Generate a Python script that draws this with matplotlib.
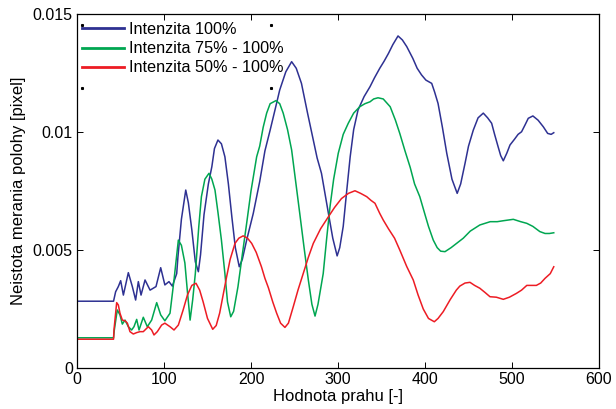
import matplotlib
matplotlib.use("Agg")
import matplotlib.pyplot as plt
from matplotlib.lines import Line2D
from matplotlib.ticker import FixedLocator, FixedFormatter

plt.rcParams["font.family"] = ["Liberation Sans", "DejaVu Sans"]

# --- data ---
blue_x = [0, 42, 44.4, 47.5, 50.2, 53.3, 59, 63.6, 67.4, 70.5, 73.6, 78.2, 84, 90.8,
          96.2, 101, 105.7, 109.6, 114.6, 116, 120, 125, 128, 132, 136, 139.5, 142,
          146, 151, 155, 158, 162, 166, 170, 174, 178, 182, 186.5, 190, 195, 202.6,
          210, 216, 222, 228, 233, 240, 246.7, 252, 258, 265, 271.6, 276, 281, 285,
          289, 294, 299, 302, 306, 310, 314, 318, 323, 330, 336.8, 342, 348, 353,
          358, 363, 369, 374, 379, 386, 391, 396, 401, 407.7, 411, 415, 420, 425,
          431, 437, 441, 446, 450, 455.5, 461, 467, 472, 476.6, 480, 484, 487, 490,
          494, 497.7, 503, 507, 511, 515, 518.7, 524, 530, 536, 541, 545, 548]
blue_y = [0.00283, 0.00283, 0.00323, 0.00345, 0.0037, 0.00309, 0.00404, 0.00345,
          0.00288, 0.00366, 0.00309, 0.00373, 0.0033, 0.00345, 0.00425, 0.00352,
          0.00366, 0.00347, 0.004, 0.0047, 0.0063, 0.00754, 0.0070, 0.00585, 0.0045,
          0.00408, 0.0048, 0.0065, 0.0078, 0.00853, 0.0093, 0.00966, 0.0095, 0.00895,
          0.0078, 0.0064, 0.0051, 0.00429, 0.0046, 0.00542, 0.00655, 0.0079, 0.0092,
          0.01008, 0.0110, 0.01178, 0.01255, 0.01298, 0.0127, 0.01206, 0.0108,
          0.00966, 0.0089, 0.00825, 0.0074, 0.00655, 0.0055, 0.00475, 0.0051, 0.006,
          0.0075, 0.00895, 0.0101, 0.01093, 0.0115, 0.01192, 0.0123, 0.0127, 0.0130,
          0.01333, 0.0137, 0.01407, 0.0139, 0.01362, 0.01312, 0.0127, 0.01242,
          0.0122, 0.01206, 0.0117, 0.01121, 0.0102, 0.0091, 0.0080, 0.0074, 0.0078,
          0.00867, 0.0094, 0.01008, 0.0106, 0.0108, 0.0106, 0.01037, 0.0099, 0.00938,
          0.0090, 0.00878, 0.0091, 0.00945, 0.0097, 0.0099, 0.01001, 0.0103, 0.01058,
          0.01068, 0.0105, 0.01022, 0.00994, 0.0099, 0.00997]

green_x = [0, 42, 42.9, 46.3, 49.4, 52.1, 55.2, 59, 62.8, 65.5, 68.6, 71.3, 76.2, 80.8,
           85.8, 91.6, 96.2, 101, 106.9, 111.5, 116.5, 120, 124, 127, 130, 133, 136,
           140, 143, 147, 151.7, 155, 158.6, 162, 166, 170, 173, 176.7, 180, 185, 190,
           195, 200, 206.5, 210, 214, 218, 222, 228.7, 233, 237, 242, 246.7, 251, 256,
           261, 265.9, 270, 273.6, 277, 283, 287, 290.8, 295, 300.3, 306, 311.8, 318,
           325, 331, 336.8, 341, 346, 352, 360, 366, 371, 377, 383, 388, 394, 400,
           404, 409.5, 414, 418, 423, 430, 437, 444, 452, 463, 475, 483, 490, 501.5,
           510, 517, 524, 532, 538, 543, 548]
green_y = [0.00128, 0.00128, 0.00161, 0.00246, 0.00225, 0.00186, 0.00203, 0.00175,
           0.00161, 0.00175, 0.00206, 0.00161, 0.00215, 0.00175, 0.00203, 0.00277,
           0.00225, 0.002, 0.00232, 0.00373, 0.00542, 0.0052, 0.00445, 0.0032,
           0.00203, 0.0029, 0.004, 0.0060, 0.00726, 0.0080, 0.00825, 0.0080, 0.00754,
           0.0066, 0.00542, 0.0040, 0.0028, 0.00217, 0.0024, 0.00344, 0.0048, 0.00613,
           0.0075, 0.00895, 0.0094, 0.0102, 0.0108, 0.0112, 0.01133, 0.0112, 0.0108,
           0.0101, 0.00924, 0.0080, 0.00656, 0.0051, 0.00373, 0.0027, 0.0022, 0.0027,
           0.004, 0.0055, 0.00683, 0.0080, 0.0091, 0.0099, 0.01037, 0.0108, 0.01107,
           0.0112, 0.01128, 0.0114, 0.01145, 0.0114, 0.01107, 0.0105, 0.00994, 0.0092,
           0.0085, 0.0078, 0.00726, 0.0065, 0.0060, 0.00542, 0.0051, 0.00495,
           0.00493, 0.0051, 0.0053, 0.0055, 0.0058, 0.00606, 0.0062, 0.0062, 0.00624,
           0.0063, 0.0062, 0.00613, 0.0060, 0.00578, 0.0057, 0.0057, 0.00573]

red_x = [0, 42, 42.5, 45.6, 47.5, 49.4, 52.1, 55.2, 57.9, 60.9, 64.7, 68.6, 72.4, 76.2,
         82, 85.8, 88.5, 92.3, 97.3, 101, 106.9, 111.5, 116.5, 122, 127, 132, 136.8,
         141, 145, 150, 156, 160, 164, 168, 172, 176, 181.6, 186, 191, 196, 200.8,
         206, 212, 216, 220, 225, 229.5, 234, 239, 243, 248.6, 254, 260, 266, 271.6,
         280, 289, 296, 304, 312, 319.5, 326, 333, 338, 342.5, 348, 352, 358, 365,
         371, 379, 386.5, 392, 398, 404, 410.7, 415, 421, 429, 436, 440, 446, 451.7,
         457, 463, 469, 474.7, 482, 490, 497, 505, 511, 517, 523, 528, 533, 538,
         544, 548]
red_y = [0.00122, 0.00122, 0.00161, 0.00277, 0.00267, 0.00232, 0.00203, 0.002,
         0.0019, 0.00154, 0.00144, 0.0015, 0.00154, 0.00154, 0.00175, 0.00161, 0.0014,
         0.00154, 0.00182, 0.0019, 0.00175, 0.00161, 0.00182, 0.00246, 0.0031, 0.0035,
         0.00359, 0.0033, 0.0028, 0.0021, 0.00164, 0.0018, 0.00233, 0.0031, 0.00387,
         0.0046, 0.00528, 0.0055, 0.0056, 0.0055, 0.00528, 0.0049, 0.00429, 0.0038,
         0.0034, 0.0028, 0.00232, 0.0019, 0.00172, 0.0019, 0.0026, 0.0033, 0.004,
         0.0047, 0.00528, 0.0059, 0.00641, 0.0068, 0.00718, 0.0074, 0.00751, 0.0074,
         0.00726, 0.0071, 0.00698, 0.00655, 0.00627, 0.0059, 0.0055, 0.0050, 0.0043,
         0.00373, 0.0031, 0.0025, 0.0021, 0.00196, 0.0021, 0.00239, 0.0029, 0.0033,
         0.00347, 0.0036, 0.00363, 0.0035, 0.00338, 0.0032, 0.00302, 0.0030, 0.00291,
         0.0030, 0.00316, 0.0033, 0.0035, 0.0035, 0.0035, 0.0036, 0.0038, 0.0040,
         0.00429]

labels = ["Intenzita 100%", "Intenzita 75% - 100%", "Intenzita 50% - 100%"]
colors = ["#2e3192", "#00a651", "#ed1c24"]

x_ticks = [0, 100, 200, 300, 400, 500, 600]
y_ticks = [0, 0.005, 0.01, 0.015]
y_tick_labels = ["0", "0.005", "0.01", "0.015"]

fig = plt.figure(figsize=(6.16, 4.09), dpi=100)
ax = fig.add_axes([77 / 616, 1 - 368 / 409, 522 / 616, 354 / 409])

for xs, ys, lab, col in zip([blue_x, green_x, red_x], [blue_y, green_y, red_y], labels, colors):
    ax.plot(xs, ys, color=col, lw=1.1, label=lab, solid_joinstyle="round")

ax.set_xlim(0, 600)
ax.set_ylim(0, 0.015)
ax.xaxis.set_major_locator(FixedLocator(x_ticks))
ax.yaxis.set_major_locator(FixedLocator(y_ticks))
ax.yaxis.set_major_formatter(FixedFormatter(y_tick_labels))
ax.tick_params(direction="in", length=4, width=0.7, top=True, right=True,
               labelsize=11.5, colors="black", pad=3)
for sp in ax.spines.values():
    sp.set_linewidth(0.9)

ax.set_xlabel("Hodnota prahu [-]", fontsize=12, labelpad=1)
ax.set_ylabel("Neistota merania polohy [pixel]", fontsize=12, labelpad=5)

leg = ax.legend(loc="upper left", bbox_to_anchor=(5 / 522, 1 - 8 / 354),
                frameon=False, fontsize=11.7, borderpad=0, borderaxespad=0,
                handlelength=2.6, handletextpad=0.3, labelspacing=0.26)
for h in leg.get_lines():
    h.set_linewidth(2)

# Matlab-style legend box leaves only dots at its corners
fig.canvas.draw()
bb = leg.get_window_extent().transformed(fig.transFigure.inverted())
x0, x1 = bb.x0, bb.x0 + 189 / 616
y1, y0 = 1 - 25 / 409, 1 - 88 / 409
fig.add_artist(Line2D([x0, x1, x0, x1], [y1, y1, y0, y0], ls="none", marker="s",
                      ms=1.2, color="black", transform=fig.transFigure))

fig.savefig("out.png", dpi=100)
